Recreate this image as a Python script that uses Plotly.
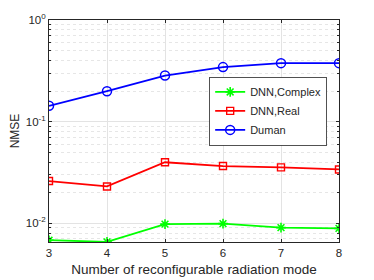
import plotly.graph_objects as go

modes = [3, 4, 5, 6, 7, 8]
dnn_complex = [0.0068, 0.00655, 0.0098, 0.0099, 0.00905, 0.0089]
dnn_real = [0.026, 0.023, 0.0398, 0.0365, 0.0354, 0.0338]
duman = [0.143, 0.199, 0.284, 0.344, 0.376, 0.376]

major_vals = [0.01, 0.1, 1]
major_text = ["10<sup>-2</sup>", "10<sup>-1</sup>", "10<sup>0</sup>"]
minor_vals = [0.007, 0.008, 0.009, 0.02, 0.03, 0.04, 0.05, 0.06, 0.07, 0.08, 0.09,
              0.2, 0.3, 0.4, 0.5, 0.6, 0.7, 0.8, 0.9]

fig = go.Figure()
fig.add_trace(go.Scatter(x=modes, y=dnn_complex, name="DNN,Complex", mode="lines+markers",
                         line=dict(color="#00ff00", width=1.8),
                         marker=dict(symbol="asterisk-open", size=8, line=dict(color="#00ff00", width=1.6))))
fig.add_trace(go.Scatter(x=modes, y=dnn_real, name="DNN,Real", mode="lines+markers",
                         line=dict(color="#ff0000", width=1.8),
                         marker=dict(symbol="square-open", size=7, line=dict(color="#ff0000", width=1.4))))
fig.add_trace(go.Scatter(x=modes, y=duman, name="Duman", mode="lines+markers",
                         line=dict(color="#0000ff", width=1.8),
                         marker=dict(symbol="circle-open", size=9, line=dict(color="#0000ff", width=1.5))))

fig.update_layout(
    width=374, height=280,
    margin=dict(l=41, r=43, t=12, b=46, autoexpand=False),
    paper_bgcolor="white", plot_bgcolor="white",
    font=dict(family="Liberation Sans, Arial, sans-serif", size=11, color="#262626"),
    showlegend=True,
    legend=dict(x=0.553, y=0.745, xanchor="left", yanchor="top",
                bgcolor="white", bordercolor="#262626", borderwidth=0.8,
                font=dict(size=11), tracegroupgap=0, itemwidth=30),
)
fig.update_xaxes(range=[3, 8], tickvals=modes, showgrid=True, gridcolor="#e3e3e3", gridwidth=1,
                 showline=True, linecolor="#262626", linewidth=1, mirror="ticks",
                 ticks="inside", ticklen=3, tickcolor="#262626", zeroline=False, automargin=False,
                 title=dict(text="Number of reconfigurable radiation mode", standoff=6, font=dict(size=13.5)),
                 tickfont=dict(size=11.5))
fig.update_yaxes(type="log", range=[-2.185, 0], tickvals=major_vals, ticktext=major_text,
                 showgrid=True, gridcolor="#e3e3e3", gridwidth=1,
                 minor=dict(tickvals=minor_vals, showgrid=True, gridcolor="#e6e6e6", griddash="dot",
                            ticks="inside", ticklen=2, tickcolor="#262626"),
                 showline=True, linecolor="#262626", linewidth=1, mirror="ticks",
                 ticks="inside", ticklen=3, tickcolor="#262626", zeroline=False, automargin=False,
                 title=dict(text="NMSE", standoff=6, font=dict(size=12)),
                 tickfont=dict(size=11.5))

fig.write_html("out.html")
